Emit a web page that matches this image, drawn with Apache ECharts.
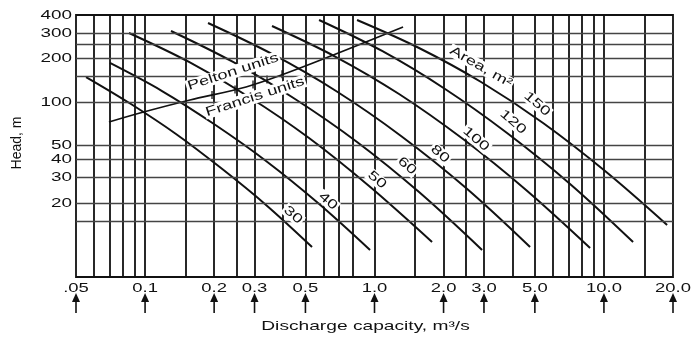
<!DOCTYPE html>
<html><head><meta charset="utf-8">
<script src="https://cdn.jsdelivr.net/npm/echarts@6/dist/echarts.min.js"></script>
<style>html,body{margin:0;padding:0;background:#fff}#c{width:692px;height:337px}</style>
</head><body><div id="c"></div>
<script>
// ---- data ----
const xTicks = [0.05, 0.1, 0.2, 0.3, 0.5, 1, 2, 3, 5, 10, 20];
const xTickLabels = ['.05', '0.1', '0.2', '0.3', '0.5', '1.0', '2.0', '3.0', '5.0', '10.0', '20.0'];
const yTicks = [20, 30, 40, 50, 100, 200, 300, 400];
const yTickLabels = ['20', '30', '40', '50', '100', '200', '300', '400'];
const xGrid = [0.06, 0.07, 0.08, 0.09, 0.1, 0.15, 0.2, 0.25, 0.3, 0.4, 0.5, 0.6, 0.7, 0.8, 1, 1.5, 2, 2.5, 3, 4, 5, 6, 7, 8, 9, 10, 15];
const yGrid = [300, 250, 200, 150, 100, 50, 40, 30, 20, 15];

const areaNames = ['30', '40', '50', '60', '80', '100', '120', '150'];
const area30  = [[0.0553,148.9],[0.0868,96.9],[0.1364,60.1],[0.2143,34.9],[0.3367,19.4],[0.5342,9.92]];
const area40  = [[0.0703,186.2],[0.1186,119.1],[0.1997,70.4],[0.3367,39.1],[0.5674,20.0],[0.9563,9.46]];
const area50  = [[0.0851,300.3],[0.1554,189.2],[0.2839,108.3],[0.5184,56.3],[0.9468,26.2],[1.7817,10.74]];
const area60  = [[0.1297,310.0],[0.2418,189.2],[0.4504,104.9],[0.8394,52.9],[1.5635,23.8],[2.9439,9.46]];
const area80  = [[0.1881,352.1],[0.3575,214.9],[0.6799,119.1],[1.3052,58.2],[2.5062,25.4],[4.7647,9.92]];
const area100 = [[0.3575,335.7],[0.6799,204.8],[1.2793,113.6],[2.4319,55.4],[4.5774,24.6],[8.7021,9.76]];
const area120 = [[0.5732,369.4],[1.0789,225.4],[2.0303,123.0],[3.782,61.0],[7.118,27.1],[13.399,10.74]];
const area150 = [[0.8394,369.4],[1.5635,236.4],[2.9145,137.5],[5.4291,71.6],[10.115,33.3],[18.85,14.1]];
const areaCurves = [area30, area40, area50, area60, area80, area100, area120, area150];

// Pelton / Francis boundary and its small cross marks
const dividerLine = [[0.0696,72.7],[0.0950,83.9],[0.1570,103.2],[0.2755,127.0],[0.4737,171.9],[1.332,330.4]];
const dividerMarks = [[0.1958,112.0],[0.2467,121.8],[0.2955,132.2],[0.3401,142.9],[0.3953,155.5]];

// where each curve's area label sits (data units)
const areaLabelAt = [[0.4416,16.5],[0.6274,20.6],[1.0259,28.9],[1.3867,36.1],[1.931,43.7],[2.770,55.4],[4.017,72.7],[5.112,96.9]];
const areaTitle = 'Area, m²';
const areaTitleAt = [2.9145,174.7];
const peltonText = 'Pelton units';
const peltonAt = [0.2418,161.3];
const francisText = 'Francis units';
const francisAt = [0.3015,108.3];
const xTitle = 'Discharge capacity, m³/s';
const yTitle = 'Head, m';

(function () {
const X_MIN = 0.05, X_MAX = 20, Y_MIN = 6.15, Y_MAX = 400;
const INK = '#111';
const FONT = '"Liberation Sans", Arial, Helvetica, sans-serif';

const chart = echarts.init(document.getElementById('c'), null, {renderer: 'canvas'});

const gridMarks = xGrid.map(v => ({xAxis: v, lineStyle: {color: '#111', width: 1.8, type: 'solid'}}))
  .concat(yGrid.map(v => ({yAxis: v, lineStyle: {color: '#444', width: 1.4, type: 'solid'}})));

const series = [{
  type: 'line', z: 1, data: [[1, 100]], showSymbol: false, symbolSize: 0,
  lineStyle: {opacity: 0}, silent: true,
  markLine: {silent: true, symbol: ['none', 'none'], label: {show: false}, animation: false, data: gridMarks}
}];
areaCurves.forEach((d, i) => series.push({
  name: areaNames[i], type: 'line', data: d, smooth: 0.35, showSymbol: false, z: 3,
  lineStyle: {color: INK, width: 2}, silent: true
}));
series.push({type: 'line', data: dividerLine, smooth: 0.3, showSymbol: false, z: 3,
  lineStyle: {color: INK, width: 1.7}, silent: true});
series.push({type: 'scatter', data: dividerMarks, symbol: 'rect', symbolSize: [1.6, 8], z: 4,
  itemStyle: {color: INK}, silent: true});

chart.setOption({
  animation: false,
  backgroundColor: '#fff',
  grid: {left: 76, right: 19, top: 15, bottom: 60, show: true, borderColor: '#111', borderWidth: 1.8, backgroundColor: 'transparent'},
  xAxis: {type: 'log', logBase: 10, min: X_MIN, max: X_MAX, axisLine: {show: false}, axisTick: {show: false}, axisLabel: {show: false}, splitLine: {show: false}},
  yAxis: {type: 'log', logBase: 10, min: Y_MIN, max: Y_MAX, axisLine: {show: false}, axisTick: {show: false}, axisLabel: {show: false}, splitLine: {show: false}},
  series: series
});

const P = (x, y) => chart.convertToPixel({gridIndex: 0}, [x, y]);
const gl = P(X_MIN, Y_MAX)[0], gr = P(X_MAX, Y_MAX)[0];
const gt = P(X_MIN, Y_MAX)[1], gb = P(X_MIN, Y_MIN)[1];
const els = [];
function txt(text, x, y, o) {
  o = o || {};
  const st = {
    text: text, font: (o.size || 13) + 'px ' + FONT, fill: INK,
    align: o.align || 'center', verticalAlign: o.valign || 'middle',
    textAlign: o.align || 'center', textVerticalAlign: o.valign || 'middle'
  };
  if (o.bg) { st.backgroundColor = '#fff'; st.padding = [0, 1]; }
  els.push({type: 'text', x: x, y: y, rotation: o.rot || 0, scaleX: o.sx || 1, scaleY: 1, z: 100, style: st, silent: true});
}
xTicks.forEach((v, i) => {
  const x = P(v, 100)[0];
  txt(xTickLabels[i], x, gb + 5, {valign: 'top', sx: 1.42});
  els.push({type: 'polygon', z: 100, silent: true, shape: {points: [[x, gb + 16], [x - 4, gb + 25], [x + 4, gb + 25]]}, style: {fill: INK}});
  els.push({type: 'line', z: 100, silent: true, shape: {x1: x, y1: gb + 23, x2: x, y2: gb + 36}, style: {stroke: INK, lineWidth: 1.6}});
});
yTicks.forEach((v, i) => {
  const y = P(1, v)[1];
  txt(yTickLabels[i], gl - 4, y, {align: 'right', sx: 1.45});
});
areaNames.forEach((n, i) => {
  const p = P(areaLabelAt[i][0], areaLabelAt[i][1]);
  txt(n, p[0], p[1], {rot: -0.72, sx: 1.4, bg: true});
});
let p = P(areaTitleAt[0], areaTitleAt[1]);
txt(areaTitle, p[0], p[1], {rot: -0.52, sx: 1.4, bg: true});
p = P(peltonAt[0], peltonAt[1]);
txt(peltonText, p[0], p[1], {rot: 0.314, sx: 1.4, bg: true});
p = P(francisAt[0], francisAt[1]);
txt(francisText, p[0], p[1], {rot: 0.314, sx: 1.4, bg: true});
txt(xTitle, (gl + gr) / 2 - 9, gb + 49, {size: 13.5, sx: 1.42});
txt(yTitle, gl - 59, (gt + gb) / 2 - 3, {size: 14, rot: Math.PI / 2});

chart.setOption({graphic: {elements: els}});
})();
</script></body></html>
